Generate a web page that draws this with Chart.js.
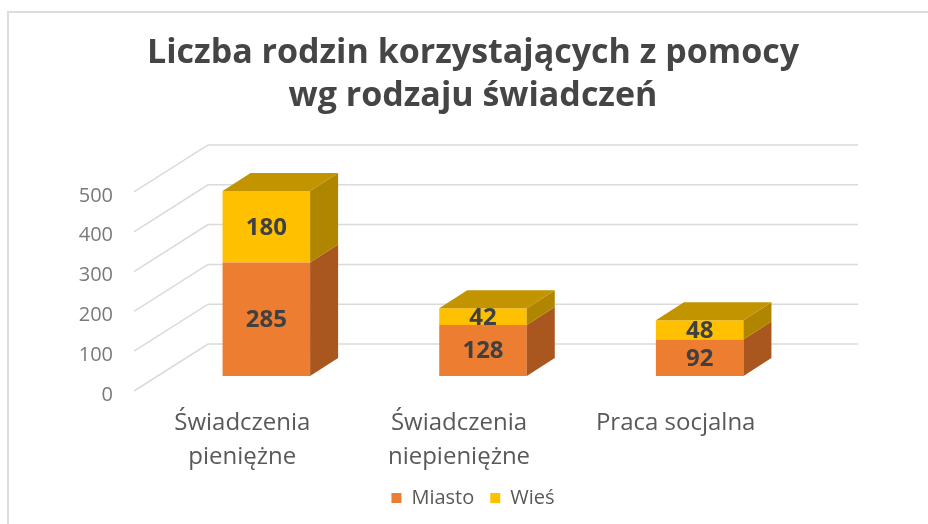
<!DOCTYPE html>
<html>
<head>
<meta charset="utf-8">
<script src="https://cdn.jsdelivr.net/npm/chart.js@4.4.0/dist/chart.umd.min.js"></script>
<style>
  html, body { margin: 0; padding: 0; background: #ffffff; }
  #wrap { width: 928px; height: 524px; }
</style>
</head>
<body>
<div id="wrap"><canvas id="c" width="928" height="524"></canvas></div>
<script>
// ---- data ----
const titleLines = ['Liczba rodzin korzystających z pomocy', 'wg rodzaju świadczeń'];
const categories = [['Świadczenia', 'pieniężne'], ['Świadczenia', 'niepieniężne'], 'Praca socjalna'];
const seriesNames = ['Miasto', 'Wieś'];
const miasto = [285, 128, 92];
const wies = [180, 42, 48];
const yTicks = [0, 100, 200, 300, 400, 500];

// ---- style ----
const FONT = "'Open Sans', 'Noto Sans', sans-serif";
const frontColors = ['#ED7D31', '#FFC000'];
const sideColors = ['#A9561F', '#B08600'];
const topColors = ['#C2651F', '#C29500'];
const GEO = { fx: -24, fy: 15, bx: 50, by: -32, dx: 28, dy: -18 };

const threeD = {
  id: 'threeD',
  beforeDraw(chart) {
    const ctx = chart.ctx;
    ctx.save();
    ctx.fillStyle = '#ffffff';
    ctx.fillRect(0, 0, chart.width, chart.height);
    ctx.strokeStyle = '#dcdcdc';
    ctx.lineWidth = 2;
    ctx.strokeRect(8, 12, chart.width + 20, chart.height + 20);
    ctx.restore();
  },
  beforeDatasetsDraw(chart) {
    const { ctx, chartArea: a } = chart;
    const y = chart.scales.y;
    ctx.save();
    ctx.strokeStyle = '#dadada';
    ctx.lineWidth = 1.5;
    y.ticks.forEach(t => {
      const py = y.getPixelForValue(t.value);
      ctx.beginPath();
      ctx.moveTo(a.left + GEO.fx, py + GEO.fy);
      ctx.lineTo(a.left + GEO.bx, py + GEO.by);
      ctx.lineTo(a.right + GEO.bx, py + GEO.by);
      ctx.stroke();
    });
    ctx.restore();
  },
  afterDatasetsDraw(chart) {
    const ctx = chart.ctx;
    const n = chart.data.labels.length;
    ctx.save();
    for (let i = 0; i < n; i++) {
      let topEl = null, topDs = -1;
      chart.data.datasets.forEach((ds, d) => {
        const meta = chart.getDatasetMeta(d);
        if (meta.hidden) return;
        const el = meta.data[i];
        const p = el.getProps(['x', 'y', 'base', 'width'], true);
        const xr = p.x + p.width / 2;
        const yt = Math.min(p.y, p.base), yb = Math.max(p.y, p.base);
        ctx.fillStyle = sideColors[d];
        ctx.beginPath();
        ctx.moveTo(xr, yt);
        ctx.lineTo(xr + GEO.dx, yt + GEO.dy);
        ctx.lineTo(xr + GEO.dx, yb + GEO.dy);
        ctx.lineTo(xr, yb);
        ctx.closePath();
        ctx.fill();
        if (ds.data[i] > 0) { topEl = p; topDs = d; }
      });
      if (topEl) {
        const xl = topEl.x - topEl.width / 2, xr = topEl.x + topEl.width / 2;
        const yt = Math.min(topEl.y, topEl.base);
        ctx.fillStyle = topColors[topDs];
        ctx.beginPath();
        ctx.moveTo(xl, yt);
        ctx.lineTo(xl + GEO.dx, yt + GEO.dy);
        ctx.lineTo(xr + GEO.dx, yt + GEO.dy);
        ctx.lineTo(xr, yt);
        ctx.closePath();
        ctx.fill();
      }
    }
    // value labels
    ctx.fillStyle = '#404040';
    ctx.font = "bold 24px " + FONT;
    ctx.textAlign = 'center';
    ctx.textBaseline = 'middle';
    chart.data.datasets.forEach((ds, d) => {
      const meta = chart.getDatasetMeta(d);
      meta.data.forEach((el, i) => {
        const p = el.getProps(['x', 'y', 'base'], true);
        ctx.fillText(String(ds.data[i]), p.x, (p.y + p.base) / 2 + 1);
      });
    });
    ctx.restore();
  }
};

new Chart(document.getElementById('c'), {
  type: 'bar',
  data: {
    labels: categories,
    datasets: [
      { label: seriesNames[0], data: miasto, backgroundColor: frontColors[0], borderWidth: 0 },
      { label: seriesNames[1], data: wies, backgroundColor: frontColors[1], borderWidth: 0 }
    ]
  },
  options: {
    responsive: false,
    animation: false,
    events: [],
    layout: { padding: { left: 18, right: 0, top: 0, bottom: 6 } },
    datasets: { bar: { categoryPercentage: 1, barPercentage: 0.404 } },
    plugins: {
      title: {
        display: true,
        text: titleLines,
        color: '#454545',
        font: { family: FONT, size: 34, weight: 'bold', lineHeight: 1.27 },
        padding: { top: 32, bottom: 58.6 }
      },
      legend: {
        display: true,
        position: 'bottom',
        labels: {
          boxWidth: 10, boxHeight: 10, padding: 16,
          color: '#595959',
          font: { family: FONT, size: 20 }
        }
      },
      tooltip: { enabled: false }
    },
    scales: {
      x: {
        stacked: true,
        grid: { display: false, drawTicks: false },
        border: { display: false },
        ticks: {
          color: '#595959',
          font: { family: FONT, size: 24, lineHeight: 1.38 },
          padding: 31,
          labelOffset: -24,
          maxRotation: 0, autoSkip: false
        },
        afterFit(scale) { scale.height = 96; }
      },
      y: {
        stacked: true,
        min: 0, max: 500,
        grid: { display: false, drawTicks: false },
        border: { display: false },
        afterBuildTicks(scale) { scale.ticks = yTicks.map(v => ({ value: v })); },
        ticks: {
          color: '#7a7a7a',
          font: { family: FONT, size: 20 },
          padding: 45,
          labelOffset: 19
        },
        afterFit(scale) { scale.width = 140; }
      },
      yR: {
        position: 'right',
        display: true,
        grid: { display: false, drawTicks: false },
        border: { display: false },
        ticks: { display: false },
        afterFit(scale) { scale.width = 120; }
      }
    }
  },
  plugins: [threeD]
});
</script>
</body>
</html>
